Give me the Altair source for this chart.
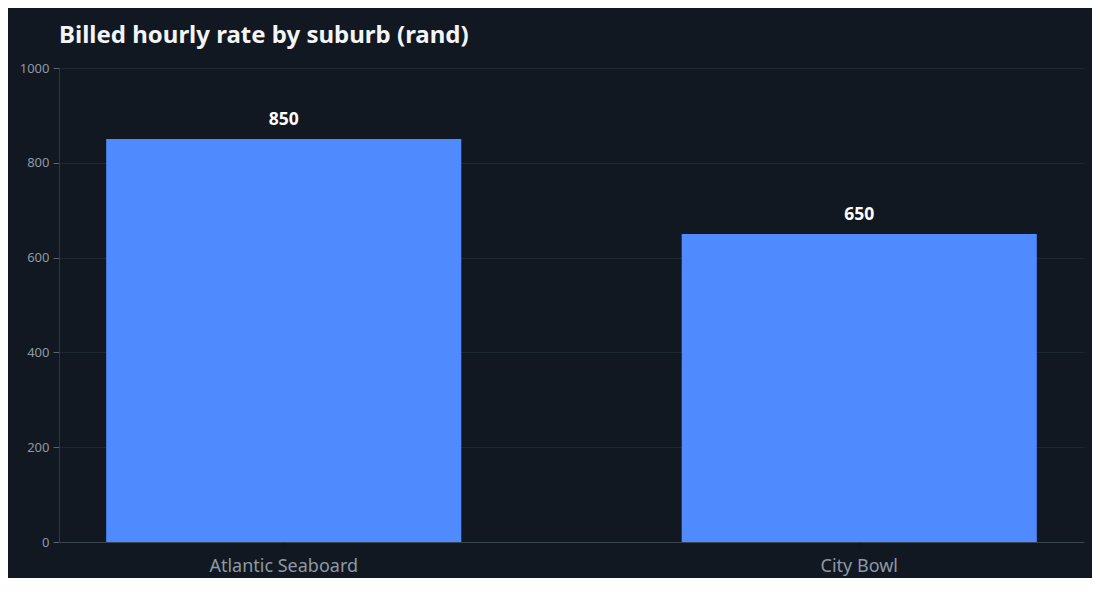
import altair as alt
import pandas as pd

suburbs = ["Atlantic Seaboard", "City Bowl"]
rates = [850, 650]

df = pd.DataFrame({"suburb": suburbs, "rate": rates})

FONT = "Noto Sans"
BG = "#111821"

base = alt.Chart(df).encode(
    x=alt.X("suburb:N", sort=suburbs, title=None,
            scale=alt.Scale(paddingInner=0.383, paddingOuter=0.082),
            axis=alt.Axis(labelAngle=0, labelFontSize=18, labelColor="#8d99a5",
                          labelFont=FONT, labelPadding=11, tickColor="#0b0f14",
                          tickSize=4, domainColor="#3a4550", grid=False)),
    y=alt.Y("rate:Q", title=None,
            scale=alt.Scale(domain=[0, 1000]),
            axis=alt.Axis(values=[0, 200, 400, 600, 800, 1000], format="d",
                          labelFontSize=13, labelColor="#8d99a5", labelFont=FONT,
                          tickColor="#5a6570", tickSize=6, labelPadding=4,
                          domainColor="#2e3842", gridColor="#1d2730", grid=True)),
)

bars = base.mark_bar(color="#4f8bff")
labels = base.mark_text(dy=-19, fontSize=17.5, fontWeight="bold", color="#ffffff",
                        font=FONT).encode(text="rate:Q")

chart = (bars + labels).properties(
    width=1025, height=474,
    background=BG,
    padding={"left": 51, "top": 60, "right": 8, "bottom": 36},
    autosize=alt.AutoSizeParams(type="none"),
    title=alt.TitleParams("Billed hourly rate by suburb (rand)", anchor="start",
                          fontSize=24, fontWeight="bold", color="#f2f4f6",
                          font=FONT, offset=14, frame="group"),
).configure_view(stroke=None)

chart.save("out.html", embed_options={"renderer": "svg", "actions": False})
